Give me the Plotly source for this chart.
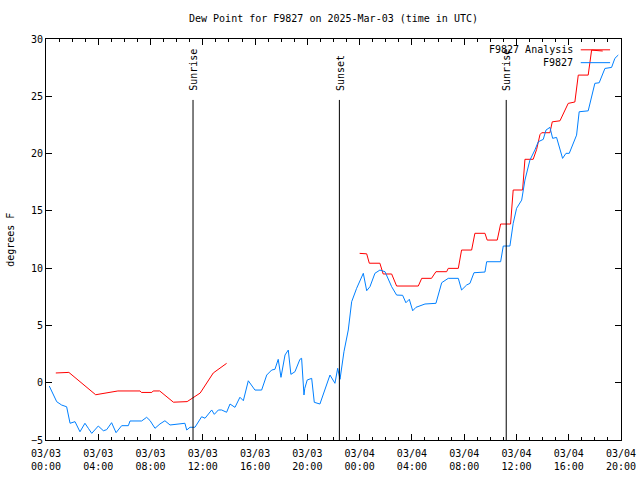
import pandas as pd
import plotly.graph_objects as go

# ---------------- data ----------------
BASE = pd.Timestamp("2025-03-03 00:00")

# F9827 Analysis (red): hours since 03/03 00:00 UTC, dew point (F); None = gap
analysis_h = [0.75, 1.75, 3.8, 4.9, 5.5, 7.2, 7.3, 8.1, 8.2, 8.7, 9.75, 10.8, 11.8, 12.8, 13.82,
              13.9,
              24.0, 24.54, 24.74, 25.55, 25.8, 26.45, 26.83, 28.49, 28.75, 29.5, 29.84, 30.66,
              30.78, 31.55, 31.8, 32.57, 32.82, 33.59, 33.76, 34.53, 34.79, 35.55, 35.75, 36.47,
              36.65, 37.28, 37.54, 37.8, 37.93, 38.56, 38.74, 39.33, 39.96, 40.47, 40.73, 41.49,
              41.75, 42.6]
analysis_v = [0.85, 0.9, -1.05, -0.85, -0.72, -0.72, -0.85, -0.85, -0.72, -0.72, -1.7, -1.65, -0.9, 0.85, 1.69,
              None,
              11.29, 11.25, 10.43, 10.43, 9.49, 9.49, 8.44, 8.44, 9.11, 9.11, 9.69, 9.69,
              9.98, 9.98, 11.58, 11.58, 13.04, 13.04, 12.45, 12.45, 13.85, 13.85, 16.82, 16.82,
              19.5, 19.5, 20.35, 21.65, 21.82, 21.82, 22.77, 22.86, 24.38, 24.5, 26.85, 26.85,
              29.03, 28.95]

# F9827 observations (blue)
obs_h = [0.25, 0.82, 1.2, 1.58, 1.84, 2.22, 2.6, 2.98, 3.24, 3.5, 4.0, 4.39, 4.64, 5.02, 5.36,
         5.79, 6.3, 6.43, 7.32, 7.7, 7.96, 8.34, 8.72, 9.1, 9.49, 10.63, 10.77, 11.02, 11.4,
         11.91, 12.17, 12.42, 12.68, 12.88, 13.19, 13.44, 13.82, 14.08, 14.46, 14.84, 15.1,
         15.48, 15.99, 16.5, 16.89, 17.27, 17.52, 17.77, 17.98, 18.29, 18.54, 18.74, 19.05,
         19.43, 19.56, 19.74, 19.8, 19.99, 20.33, 20.53, 20.96, 21.73, 22.11, 22.32, 22.5,
         22.8, 23.13, 23.39, 23.77, 24.28, 24.54, 24.79, 25.17, 25.55, 25.94, 26.45, 26.83,
         27.29, 27.54, 27.8, 28.06, 28.31, 29.0, 29.84, 30.28, 30.78, 31.55, 31.8, 32.19,
         32.44, 32.75, 33.59, 33.72, 34.79, 34.99, 35.5, 35.75, 36.01, 36.4, 36.65, 37.03,
         37.41, 37.67, 38.05, 38.26, 38.56, 38.77, 39.07, 39.53, 39.79, 40.04, 40.6, 40.8,
         41.49, 42.0, 42.33, 42.77, 43.28, 43.53, 43.79]
obs_v = [-0.29, -1.66, -1.95, -2.1, -3.54, -3.4, -4.28, -3.54, -3.98, -4.42, -3.78, -4.19, -4.1, -3.49, -4.36,
         -3.75, -3.75, -3.34, -3.34, -3.02, -3.3, -3.98, -3.6, -3.32, -3.69, -3.54, -4.13, -3.89, -3.89,
         -2.97, -3.1, -2.73, -2.38, -2.76, -2.38, -2.38, -2.58, -1.86, -2.15, -1.27, -1.57,
         0.17, -0.64, -0.64, 0.67, 1.11, 1.17, 2.04, 0.47, 2.42, 2.85, 0.73, 0.96,
         2.04, 2.13, -1.07, -0.5, 0.24, 0.38, -1.71, -1.86, 0.67, -0.05, 1.26, 0.3,
         2.7, 4.6, 7.07, 8.24, 9.55, 8.03, 8.38, 9.55, 9.83, 9.69, 8.38, 7.65,
         7.63, 6.98, 7.28, 6.28, 6.58, 6.87, 6.93, 8.73, 9.11, 9.11, 8.09, 8.53,
         8.67, 9.6, 9.66, 10.56, 10.56, 11.93, 11.93, 13.91, 15.22, 15.94, 17.69, 19.43,
         20.31, 21.03, 21.24, 22.05, 22.29, 21.33, 21.41, 19.58, 20.02, 20.02, 21.61, 23.65,
         23.73, 26.13, 26.18, 27.43, 27.52, 28.31, 28.6]

# sun events
event_names = ["Sunrise", "Sunset", "Sunrise"]
event_times = ["2025-03-03 11:15", "2025-03-03 22:27", "2025-03-04 11:13"]

# axis ticks
x_tick_vals = ["2025-03-03 00:00", "2025-03-03 04:00", "2025-03-03 08:00", "2025-03-03 12:00",
               "2025-03-03 16:00", "2025-03-03 20:00", "2025-03-04 00:00", "2025-03-04 04:00",
               "2025-03-04 08:00", "2025-03-04 12:00", "2025-03-04 16:00", "2025-03-04 20:00"]
x_tick_text = ["03/03<br>00:00", "03/03<br>04:00", "03/03<br>08:00", "03/03<br>12:00",
               "03/03<br>16:00", "03/03<br>20:00", "03/04<br>00:00", "03/04<br>04:00",
               "03/04<br>08:00", "03/04<br>12:00", "03/04<br>16:00", "03/04<br>20:00"]
y_tick_vals = [-5, 0, 5, 10, 15, 20, 25, 30]

RED = "#ff0000"
BLUE = "#0080ff"
FONT = "DejaVu Sans Mono"


def to_time(hours):
    return [BASE + pd.Timedelta(hours=h) for h in hours]


fig = go.Figure()
fig.add_trace(go.Scatter(x=to_time(analysis_h), y=analysis_v, mode="lines",
                         line=dict(color=RED, width=1), name="F9827 Analysis",
                         connectgaps=False, showlegend=False))
fig.add_trace(go.Scatter(x=to_time(obs_h), y=obs_v, mode="lines",
                         line=dict(color=BLUE, width=1), name="F9827", showlegend=False))

for name, t in zip(event_names, event_times):
    fig.add_shape(type="line", xref="x", yref="paper", x0=t, x1=t, y0=0, y1=0.848,
                  line=dict(color="black", width=1))
    fig.add_annotation(x=t, y=0.866, xref="x", yref="paper", text=name, textangle=-90,
                       showarrow=False, xanchor="center", yanchor="bottom", xshift=1,
                       font=dict(family=FONT, size=10, color="black"))

# gnuplot-style legend (text then sample line)
legend_items = [("F9827 Analysis", RED, 0.973), ("F9827", BLUE, 0.941)]
for label, col, yy in legend_items:
    fig.add_annotation(x=0.92, y=yy, xref="paper", yref="paper", text=label,
                       showarrow=False, xanchor="right", yanchor="middle",
                       font=dict(family=FONT, size=10, color="black"))
    fig.add_shape(type="line", xref="paper", yref="paper", x0=0.930, x1=0.981, y0=yy, y1=yy,
                  line=dict(color=col, width=1))

# y-axis title as rotated annotation
fig.add_annotation(x=-0.062, y=0.5, xref="paper", yref="paper", text="degrees F",
                   textangle=-90, showarrow=False, xanchor="center", yanchor="middle",
                   font=dict(family=FONT, size=10, color="black"))

fig.update_layout(
    width=640, height=480,
    margin=dict(l=46, r=19, t=39, b=40, autoexpand=False),
    paper_bgcolor="white", plot_bgcolor="white",
    font=dict(family=FONT, size=10, color="black"),
    title=dict(text="Dew Point for F9827 on 2025-Mar-03 (time in UTC)", x=0.5, xref="paper",
               xanchor="center", y=0.962, yanchor="middle",
               font=dict(family=FONT, size=10, color="black")),
    showlegend=False,
)
fig.update_xaxes(
    range=["2025-03-03 00:00", "2025-03-04 20:00"],
    tickmode="array", tickvals=x_tick_vals, ticktext=x_tick_text,
    ticks="inside", ticklen=6, tickwidth=1, tickcolor="black",
    showline=True, linecolor="black", linewidth=1, mirror="allticks",
    showgrid=False, zeroline=False, automargin=False, ticklabelstandoff=4,
    minor=dict(ticks="inside", ticklen=3, dtick=3600000, tickcolor="black", showgrid=False),
    tickfont=dict(family=FONT, size=10, color="black"),
)
fig.update_yaxes(
    range=[-5, 30], tickmode="array", tickvals=y_tick_vals,
    ticks="inside", ticklen=6, tickwidth=1, tickcolor="black",
    showline=True, linecolor="black", linewidth=1, mirror="allticks",
    showgrid=False, zeroline=False, automargin=False,
    tickfont=dict(family=FONT, size=10, color="black"),
)

fig.write_html("out.html")
